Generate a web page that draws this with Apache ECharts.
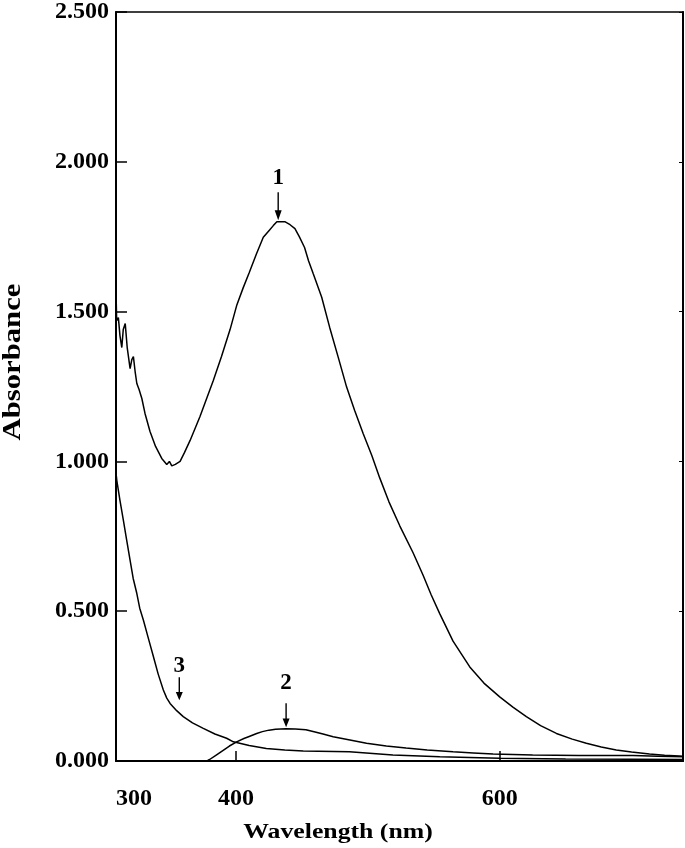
<!DOCTYPE html>
<html>
<head>
<meta charset="utf-8">
<script src="https://cdn.jsdelivr.net/npm/echarts@6/dist/echarts.min.js"></script>
<style>html,body{margin:0;padding:0;background:#fff}#c{width:685px;height:848px}</style>
</head>
<body>
<div id="c"></div>
<script>
// ---- data (wavelength nm, absorbance) ----
const curve1 = [[309,1.57],[309.5,1.47],[310.8,1.48],[312,1.42],[313.4,1.38],[314.5,1.44],[316,1.46],[317.5,1.38],[319.7,1.31],[321,1.34],[322.2,1.35],[323.5,1.30],[324.8,1.26],[326.5,1.24],[328.6,1.21],[331,1.16],[334.8,1.10],[339,1.05],[343.7,1.01],[347.5,0.99],[349.5,1.00],[351.3,0.985],[354,0.99],[355.5,0.985],[357.6,1.00],[361,1.03],[365.2,1.07],[372.7,1.15],[382.8,1.27],[389,1.35],[395.5,1.44],[400.5,1.52],[405.5,1.58],[410,1.63],[415.7,1.695],[420.7,1.748],[425,1.77],[428.3,1.787],[431,1.80],[432,1.805],[434,1.80],[437,1.80],[441,1.79],[444.7,1.777],[448,1.75],[452,1.714],[455,1.67],[458.6,1.626],[465,1.548],[471,1.448],[477.5,1.348],[483.9,1.248],[490,1.17],[496.5,1.092],[503,1.02],[509,0.945],[516,0.865],[524.2,0.785],[534.3,0.695],[541.9,0.620],[548,0.555],[554.5,0.492],[564.6,0.400],[577.3,0.314],[588,0.26],[600,0.214],[610,0.18],[620.2,0.148],[631,0.118],[643,0.092],[655,0.073],[665.7,0.059],[677,0.047],[688.4,0.037],[700,0.03],[713.6,0.023],[725,0.019],[736,0.017],[739,0.016]];
const curve2 = [[378,0.0],[380,0.005],[385,0.02],[390,0.035],[395,0.05],[400.5,0.064],[406,0.075],[410,0.082],[415.7,0.092],[420,0.098],[425,0.103],[430,0.106],[438,0.108],[445,0.107],[453,0.104],[460,0.097],[466,0.09],[473.7,0.081],[486.4,0.07],[499,0.059],[514,0.05],[529,0.043],[545,0.037],[564.6,0.031],[580,0.027],[595,0.023],[625,0.02],[660,0.018],[701,0.018],[720,0.016],[739,0.014]];
const curve3 = [[309.3,0.95],[309.6,0.937],[312,0.87],[314.6,0.803],[317,0.74],[319.7,0.67],[322,0.61],[324.8,0.559],[327,0.51],[329.8,0.47],[333.5,0.41],[337.4,0.348],[341,0.29],[344.9,0.237],[347.5,0.21],[350,0.192],[355,0.168],[360,0.148],[367,0.127],[375.2,0.109],[384,0.09],[392.9,0.076],[398,0.064],[410,0.052],[423,0.042],[437,0.037],[451,0.033],[486,0.031],[519,0.02],[554.5,0.014],[600,0.009],[650,0.007],[700,0.006],[739,0.005]];
const xTickValues = [309, 400, 600];
const xTickLabels = ['300', '400', '600'];
const annotations = [
  {label: '1', coord: [432, 1.805]},
  {label: '2', coord: [438, 0.113]},
  {label: '3', coord: [357, 0.203]}
];

const FONT = '"Liberation Serif", "Times New Roman", serif';
const arrow = 'path://M-0.7,0 L0.7,0 L0.7,18 L3.5,18 L0,28 L-3.5,18 L-0.7,18 Z';

function mp(a, h, dist) {
  return {
    name: a.label, coord: a.coord, value: a.label,
    symbol: arrow, symbolSize: [7, h], symbolOffset: [0, '-50%'],
    itemStyle: {color: '#000'},
    label: {show: true, position: 'top', distance: dist, formatter: a.label,
            color: '#000', fontFamily: FONT, fontWeight: 'bold', fontSize: 23}
  };
}

function lineSeries(data, marks) {
  return {
    type: 'line', data: data, showSymbol: false, symbol: 'none',
    lineStyle: {color: '#000', width: 1.5}, silent: true,
    markPoint: marks ? {data: marks, animation: false} : undefined
  };
}

const chart = echarts.init(document.getElementById('c'));
chart.setOption({
  animation: false,
  backgroundColor: '#fff',
  grid: {left: 116, top: 11, right: 2, bottom: 87, show: true, borderColor: '#000', borderWidth: 1.5, backgroundColor: 'transparent'},
  xAxis: {
    type: 'value', min: 309, max: 739,
    axisLine: {show: true, lineStyle: {color: '#000', width: 2}},
    axisTick: {show: true, inside: true, length: 10, customValues: [400, 600], lineStyle: {color: '#000', width: 1.5}},
    axisLabel: {
      customValues: xTickValues,
      formatter: v => xTickLabels[xTickValues.indexOf(v)] ?? '',
      alignMinLabel: 'left',
      margin: 26, color: '#000', fontFamily: FONT, fontWeight: 'bold', fontSize: 24
    },
    splitLine: {show: false}
  },
  yAxis: [{
    type: 'value', min: 0, max: 2.5, interval: 0.5,
    axisLine: {show: true, lineStyle: {color: '#000', width: 2}},
    axisTick: {show: true, inside: true, length: 11, lineStyle: {color: '#000', width: 1.5}},
    axisLabel: {formatter: v => v.toFixed(3), margin: 7, color: '#000', fontFamily: FONT, fontWeight: 'bold', fontSize: 24},
    splitLine: {show: false}
  }, {
    type: 'value', min: 0, max: 2.5, interval: 0.5, position: 'right',
    axisLine: {show: true, lineStyle: {color: '#000', width: 2}},
    axisTick: {show: true, inside: true, length: 4, lineStyle: {color: '#000', width: 1}},
    axisLabel: {show: false}, splitLine: {show: false}
  }],
  graphic: [
    {type: 'text', x: 338, y: 832, scaleX: 1.17,
     style: {text: 'Wavelength (nm)', font: 'bold 22px ' + FONT, fill: '#000', textAlign: 'center', textVerticalAlign: 'middle'}},
    {type: 'text', x: 13, y: 362, rotation: Math.PI / 2, scaleX: 1.18,
     style: {text: 'Absorbance', font: 'bold 26px ' + FONT, fill: '#000', textAlign: 'center', textVerticalAlign: 'middle'}}
  ],
  series: [
    lineSeries(curve1, [mp(annotations[0], 28, 3)]),
    lineSeries(curve2, [mp(annotations[1], 24, 9)]),
    lineSeries(curve3, [mp(annotations[2], 23, 0)])
  ]
});
</script>
</body>
</html>
